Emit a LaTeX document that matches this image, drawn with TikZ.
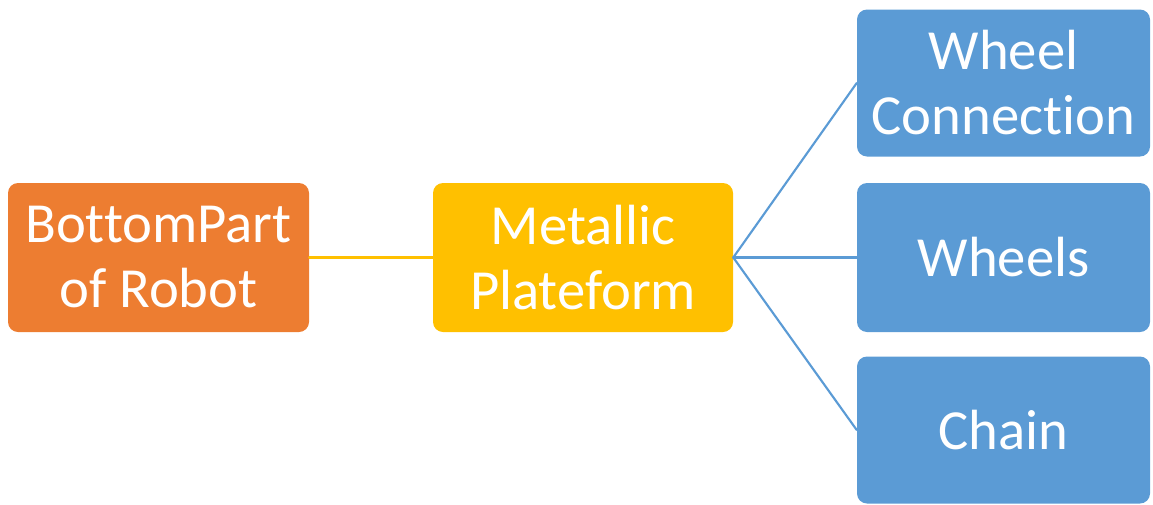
\documentclass[tikz,border=0pt]{standalone}
\usepackage{fontspec}
\setmainfont{Carlito}[Ligatures={NoCommon}]
\definecolor{orangebox}{HTML}{ED7D31}
\definecolor{goldbox}{HTML}{FFC000}
\definecolor{bluebox}{HTML}{5B9BD5}
\tikzset{
	box/.style={rounded corners=7.5pt, text=white, align=center, inner sep=0pt,
		font=\fontsize{42.5}{48.75}\selectfont, minimum height=111.75pt},
	leaf/.style={box, fill=bluebox, minimum width=219.75pt, minimum height=110.25pt},
}
\begin{document}
\begin{tikzpicture}[x=0.75pt, y=-0.75pt, line join=round, line cap=round]
	\useasboundingbox (0,0) rectangle (1153,504);
	% left part of the tree
	\node[box, fill=orangebox, minimum width=225.75pt] (bottom) at (158.5,257.5) {BottomPart\\of Robot};
	\node[box, fill=goldbox, minimum width=225pt] (plate) at (583,257.5) {Metallic\\Plateform};
	% leaves
	\node[leaf] (conn) at (1003.5,83) {Wheel\\Connection};
	\node[leaf, minimum height=111.75pt] (wheels) at (1003.5,257.5) {Wheels};
	\node[leaf] (chain) at (1003.5,430) {Chain};
	\draw[goldbox, line width=1.6pt] (bottom.east)--(plate.west);
	\foreach \n in {conn,wheels,chain}
	{\draw[bluebox, line width=1.6pt] (plate.east)--(\n.west);}
\end{tikzpicture}
\end{document}
